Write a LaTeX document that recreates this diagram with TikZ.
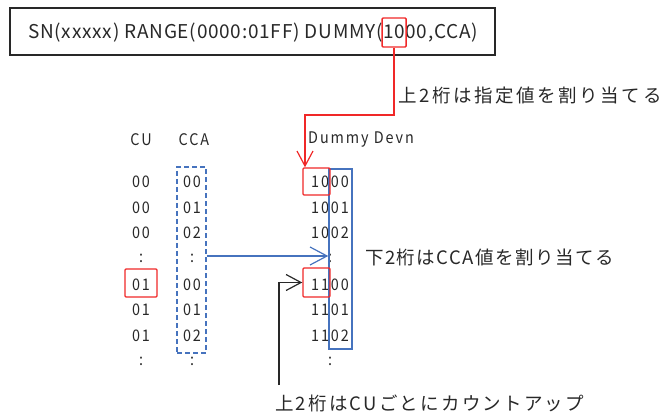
\documentclass[tikz,border=0pt]{standalone}
\usepackage{fontspec}
\setmainfont{Noto Sans CJK JP}
\newfontfamily\cmdfont[LetterSpace=4]{Noto Sans CJK JP}
\newfontfamily\jpA[LetterSpace=14]{Noto Sans CJK JP}
\newfontfamily\jpB[LetterSpace=8]{Noto Sans CJK JP}
\newfontfamily\jpC[LetterSpace=12]{Noto Sans CJK JP}
\newfontfamily\numfont[FakeStretch=0.9,LetterSpace=12]{Noto Sans CJK JP}
\usetikzlibrary{arrows.meta,calc}
\definecolor{myred}{RGB}{240,40,40}
\definecolor{myblue}{RGB}{70,115,190}
\definecolor{mytext}{RGB}{40,40,40}
\tikzset{
  txt/.style={inner sep=0pt, text=mytext},
  cmdtxt/.style={txt, anchor=base west, font=\fontsize{19}{19}\cmdfont},
  jplabel/.style={txt, anchor=west},
  numtxt/.style={txt, font=\fontsize{16}{16}\numfont},
  redbox/.style={draw=myred, line width=1.4pt, rounded corners=1pt, inner sep=0pt},
  bluebox/.style={draw=myblue, line width=1.4pt, inner sep=0pt},
  dashbox/.style={draw=myblue, line width=1.4pt, dash pattern=on 5pt off 3pt, inner sep=0pt},
  redarrow/.style={draw=myred, line width=1.3pt, -{Straight Barb[length=15pt,width=16pt,line width=1.2pt]}},
  bluearrow/.style={draw=myblue, line width=1.3pt, -{Straight Barb[length=17pt,width=18pt,line width=1.2pt]}},
  blackarrow/.style={draw=mytext, line width=1.3pt, -{Straight Barb[length=15pt,width=16pt,line width=1.2pt]}}
}
\begin{document}
\begin{tikzpicture}[x=1pt,y=-1pt]
\useasboundingbox (0,0) rectangle (664,414);
% top command box
\node[draw=mytext, line width=1.5pt, minimum width=485pt, minimum height=47pt, inner sep=0pt] (cmd) at (252.5,31.5) {};
\node[cmdtxt] (c1) at (28,38.5) {SN(xxxxx) RANGE(0000:01FF) DUMMY(};
\node[cmdtxt] (c2) at (c1.base east) {10};
\node[cmdtxt] (c3) at (c2.base east) {00,CCA)};
\node[redbox, minimum width=24pt, minimum height=29pt] (hi) at (c2.center |- 0,32.5) {};
\node[jplabel, font=\fontsize{18.5}{18.5}\jpA] (lbltop) at (398,96) {上2桁は指定値を割り当てる};
% headers
\node[numtxt] (hcu) at (141,140) {CU};
\node[numtxt] (hcca) at (194,140) {CCA};
\node[numtxt, anchor=west] (hdum) at (308,140) {Dummy Devn};
% rows
\foreach \i/\cu/\cca/\dv in {0/00/00/1000,1/00/01/1001,2/00/02/1002,3/:/:/:,4/01/00/1100,5/01/01/1101,6/01/02/1102,7/:/:/:}{
  \node[numtxt] (cu\i) at (141,{182+25.6*\i}) {\cu};
  \node[numtxt] (cca\i) at (192,{182+25.6*\i}) {\cca};
  \node[numtxt] (dv\i) at (330,{182+25.6*\i}) {\dv};
}
% boxes
\node[dashbox, minimum width=29pt, minimum height=186pt] (ccabox) at (191.5,260) {};
\node[bluebox, minimum width=23pt, minimum height=180pt] (dbox) at (340.5,259) {};
\node[redbox, minimum width=27pt, minimum height=27pt] (r1000) at (316.5,181.5) {};
\node[redbox, minimum width=32pt, minimum height=28pt] (rcu) at (141,283) {};
\node[redbox, minimum width=27pt, minimum height=29pt] (r1100) at (316.5,282.5) {};
% labels
\node[jplabel, font=\fontsize{18.5}{18.5}\jpB] (lblmid) at (365,257) {下2桁はCCA値を割り当てる};
\node[jplabel, font=\fontsize{18.5}{18.5}\jpC] (lblbot) at (275,403) {上2桁はCUごとにカウントアップ};
% connectors
\coordinate (bend) at (305,115);
\draw[redarrow] (hi.south) |- (bend) -- (bend |- r1000.north);
\coordinate (bstart) at (ccabox.east |- 0,256);
\draw[bluearrow] (bstart) -- (bstart -| dbox.west);
\coordinate (kstart) at (279,385);
\draw[blackarrow] (kstart) |- (r1100.west);
\end{tikzpicture}
\end{document}
